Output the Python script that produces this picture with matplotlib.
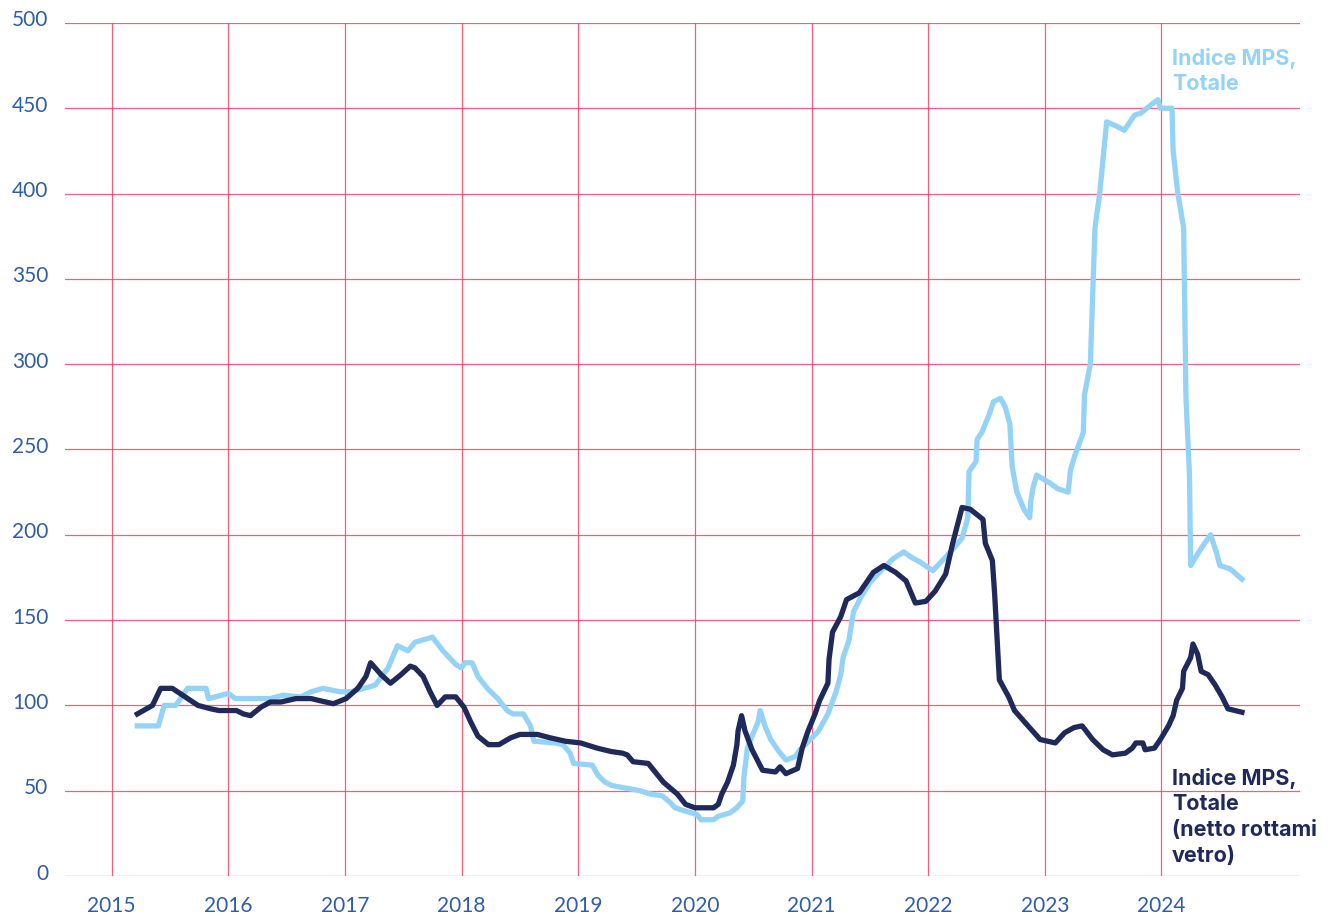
import numpy as np
import matplotlib.pyplot as plt
from matplotlib.transforms import ScaledTranslation

plt.rcParams['font.family'] = ['Lato', 'DejaVu Sans']

# Indice MPS, Totale (light blue)
tot_x = [2015.22, 2015.40, 2015.45, 2015.55, 2015.65, 2015.81, 2015.83, 2016.00, 2016.06, 2016.36,
         2016.47, 2016.62, 2016.71, 2016.81, 2016.96, 2017.05, 2017.22, 2017.26, 2017.37, 2017.45,
         2017.54, 2017.60, 2017.75, 2017.84, 2017.95, 2018.00, 2018.03, 2018.09, 2018.14, 2018.22,
         2018.31, 2018.39, 2018.44, 2018.53, 2018.59, 2018.62, 2018.80, 2018.87, 2018.93, 2018.96,
         2019.12, 2019.17, 2019.23, 2019.29, 2019.53, 2019.62, 2019.72, 2019.79, 2019.83, 2019.92,
         2020.02, 2020.05, 2020.16, 2020.20, 2020.30, 2020.36, 2020.41, 2020.42, 2020.45, 2020.49,
         2020.54, 2020.56, 2020.60, 2020.65, 2020.72, 2020.78, 2020.86, 2020.90, 2020.99, 2021.06,
         2021.14, 2021.21, 2021.25, 2021.27, 2021.32, 2021.36, 2021.42, 2021.50, 2021.61, 2021.70,
         2021.79, 2021.85, 2021.93, 2022.04, 2022.15, 2022.23, 2022.29, 2022.34, 2022.35, 2022.41,
         2022.42, 2022.46, 2022.52, 2022.56, 2022.62, 2022.66, 2022.70, 2022.72, 2022.76, 2022.82,
         2022.87, 2022.88, 2022.90, 2022.93, 2023.05, 2023.11, 2023.20, 2023.22, 2023.26, 2023.33,
         2023.34, 2023.39, 2023.43, 2023.47, 2023.53, 2023.63, 2023.68, 2023.73, 2023.77, 2023.82,
         2023.93, 2023.97, 2023.99, 2024.09, 2024.10, 2024.14, 2024.19, 2024.21, 2024.24, 2024.25,
         2024.33, 2024.42, 2024.44, 2024.47, 2024.50, 2024.59, 2024.69]
tot_y = [88, 88, 100, 100, 110, 110, 104, 107, 104, 104,
         106, 105, 108, 110, 108, 108, 111, 112, 122, 135,
         132, 137, 140, 132, 124, 122, 125, 125, 117, 110,
         104, 97, 95, 95, 88, 79, 78, 77, 72, 66,
         65, 59, 55, 53, 50, 48, 47, 43, 40, 38,
         36, 33, 33, 35, 37, 40, 44, 58, 75, 82,
         90, 97, 88, 80, 73, 68, 70, 74, 80, 85,
         95, 108, 118, 128, 138, 155, 163, 172, 180, 186,
         190, 187, 184, 179, 187, 193, 198, 210, 237, 243,
         256, 260, 270, 278, 280, 275, 265, 240, 225, 215,
         210, 220, 228, 235, 230, 227, 225, 238, 247, 260,
         282, 300, 380, 400, 442, 439, 437, 442, 446, 447,
         453, 455, 450, 450, 425, 400, 380, 280, 235, 182,
         191, 200, 196, 190, 182, 180, 174]

# Indice MPS, Totale (netto rottami vetro) (dark navy)
net_x = [2015.22, 2015.35, 2015.42, 2015.52, 2015.63, 2015.74, 2015.85, 2015.92, 2016.07, 2016.13,
         2016.19, 2016.28, 2016.36, 2016.45, 2016.58, 2016.71, 2016.77, 2016.90, 2017.01, 2017.11,
         2017.18, 2017.22, 2017.31, 2017.39, 2017.48, 2017.56, 2017.60, 2017.67, 2017.73, 2017.79,
         2017.86, 2017.95, 2018.02, 2018.08, 2018.14, 2018.23, 2018.32, 2018.42, 2018.50, 2018.65,
         2018.76, 2018.89, 2019.02, 2019.16, 2019.28, 2019.38, 2019.42, 2019.47, 2019.60, 2019.73,
         2019.85, 2019.92, 2020.00, 2020.16, 2020.20, 2020.23, 2020.28, 2020.33, 2020.36, 2020.37,
         2020.40, 2020.43, 2020.49, 2020.58, 2020.69, 2020.73, 2020.78, 2020.88, 2020.92, 2020.97,
         2021.03, 2021.07, 2021.14, 2021.15, 2021.18, 2021.25, 2021.30, 2021.41, 2021.47, 2021.53,
         2021.62, 2021.72, 2021.81, 2021.89, 2021.98, 2022.06, 2022.15, 2022.21, 2022.29, 2022.36,
         2022.47, 2022.49, 2022.55, 2022.57, 2022.61, 2022.69, 2022.74, 2022.83, 2022.96, 2023.09,
         2023.17, 2023.25, 2023.32, 2023.41, 2023.50, 2023.58, 2023.69, 2023.75, 2023.78, 2023.84,
         2023.86, 2023.94, 2023.99, 2024.06, 2024.10, 2024.13, 2024.18, 2024.19, 2024.25, 2024.27,
         2024.31, 2024.34, 2024.40, 2024.46, 2024.52, 2024.57, 2024.69]
net_y = [95, 100, 110, 110, 105, 100, 98, 97, 97, 95,
         94, 99, 102, 102, 104, 104, 103, 101, 104, 110,
         117, 125, 118, 113, 118, 123, 122, 117, 108, 100,
         105, 105, 99, 90, 82, 77, 77, 81, 83, 83,
         81, 79, 78, 75, 73, 72, 71, 67, 66, 55,
         48, 42, 40, 40, 42, 48, 55, 65, 77, 85,
         94, 85, 74, 62, 61, 64, 60, 63, 75, 85,
         95, 103, 113, 127, 143, 152, 162, 166, 172, 178,
         182, 178, 173, 160, 161, 167, 177, 195, 216, 215,
         209, 195, 185, 165, 115, 105, 97, 90, 80, 78,
         84, 87, 88, 80, 74, 71, 72, 75, 78, 78,
         74, 75, 80, 88, 94, 103, 110, 120, 128, 136,
         130, 120, 118, 112, 105, 98, 96]

years = list(range(2015, 2025))
y_ticks = list(range(0, 501, 50))

light = '#94D3F5'
dark = '#1F2A5A'
grid_col = '#EE4468'
tick_col = '#2F5DA8'

fig = plt.figure(figsize=(13.35, 9.2), dpi=100)
ax = fig.add_axes([0.0487, 0.0467, 0.9253, 0.9273])

ax.plot(tot_x, tot_y, color=light, lw=3.8, solid_joinstyle='round', zorder=3)
ax.plot(net_x, net_y, color=dark, lw=3.8, solid_joinstyle='round', zorder=4)

ax.set_xlim(2014.6, 2025.19)
ax.set_ylim(0, 500)
ax.set_xticks(years)
ax.set_yticks(y_ticks)
ax.grid(True, color=grid_col, lw=0.9, alpha=0.85)
ax.set_axisbelow(True)
for s in ax.spines.values():
    s.set_visible(False)
ax.tick_params(length=0, labelsize=15, labelcolor=tick_col)
ax.tick_params(axis='y', pad=12)
ax.tick_params(axis='x', pad=14)

# y labels sit a little above their gridline
shift = ScaledTranslation(0, 5.5 / 100, fig.dpi_scale_trans)
for lab in ax.get_yticklabels():
    lab.set_transform(lab.get_transform() + shift)

ax.text(2024.09, 486, 'Indice MPS,\nTotale', color=light, fontsize=15.5,
        family=['Inter', 'DejaVu Sans'], fontweight='bold', va='top', ha='left',
        linespacing=1.35)
ax.text(2024.09, 64, 'Indice MPS,\nTotale\n(netto rottami\nvetro)', color=dark,
        fontsize=15.5, family=['Inter', 'DejaVu Sans'], fontweight='bold',
        va='top', ha='left', linespacing=1.35)

fig.savefig('out.png', dpi=100)
